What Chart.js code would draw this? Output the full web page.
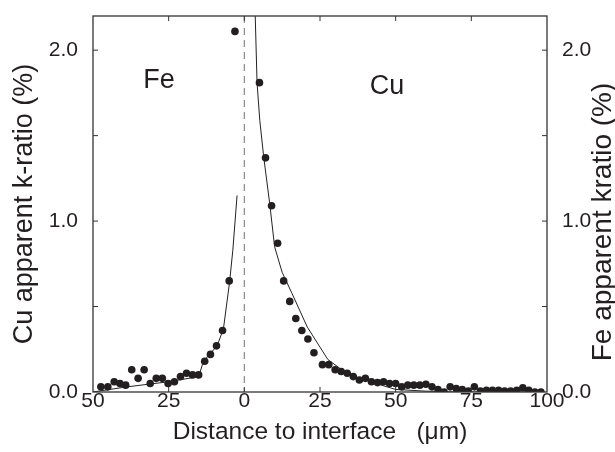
<!DOCTYPE html>
<html>
<head>
<meta charset="utf-8">
<script src="https://cdn.jsdelivr.net/npm/chart.js@4.4.1/dist/chart.umd.min.js"></script>
<style>
  body { margin: 0; background: #fff; }
  #wrap { width: 615px; height: 452px; position: relative; }
</style>
</head>
<body>
<div id="wrap"><canvas id="myChart"></canvas></div>
<script>
// measured points, Fe side (distance shown as negative x)
var feX = [-47.4, -45.1, -43.0, -41.1, -39.2, -37.2, -35.1, -33.1, -31.1, -29.1, -27.1, -25.2,
           -23.1, -21.1, -19.1, -17.1, -15.1, -13.1, -11.2, -9.2, -7.2, -5.0, -3.1];
var feY = [0.03, 0.03, 0.06, 0.05, 0.04, 0.13, 0.08, 0.13, 0.05, 0.08, 0.08, 0.05,
           0.06, 0.09, 0.11, 0.10, 0.10, 0.18, 0.22, 0.27, 0.36, 0.65, 2.11];
// measured points, Cu side
var cuX = [5, 7, 9, 11, 13, 15, 17, 19, 21, 23, 25.8, 27.9, 30, 32, 34, 36, 38, 40, 42, 44, 46, 48,
           50, 52, 54, 56, 58, 60, 62, 64, 66, 68, 70, 72, 74, 76, 78, 80, 82, 84, 86, 88, 90, 92, 94, 96, 98];
var cuY = [1.81, 1.37, 1.09, 0.87, 0.65, 0.53, 0.43, 0.36, 0.31, 0.23, 0.16, 0.16, 0.13, 0.12, 0.11, 0.09, 0.07, 0.08, 0.06, 0.055, 0.06, 0.05,
           0.05, 0.03, 0.04, 0.04, 0.04, 0.045, 0.03, 0.015, 0.0, 0.03, 0.02, 0.015, 0.005, 0.03, 0.005, 0.01, 0.01, 0.01, 0.005, 0.005, 0.01, 0.025, 0.01, 0.0, 0.0];
// calculated curves
var feLineX = [-50, -38.8, -25, -15.1, -13.5, -9, -6.9, -4.9, -3.8, -2.4];
var feLineY = [0.0, 0.03, 0.06, 0.09, 0.18, 0.27, 0.37, 0.64, 0.83, 1.15];
var cuLineX = [3.45, 4.2, 5.1, 6.4, 8.4, 10, 12.5, 15.8, 20.8, 27.6, 34.5, 43.4, 50, 60, 70, 80, 90, 98];
var cuLineY = [2.3, 1.81, 1.59, 1.375, 1.10, 0.85, 0.70, 0.575, 0.38, 0.19, 0.10, 0.05, 0.015, 0.005, 0, 0, 0, 0];

var xTicks = [-25, 0, 25, 50, 75];
var yTicks = [0.5, 1.0, 1.5, 2.0];
var regionNames = ['Fe', 'Cu'];
var regionX = [-33.4, 41.4];
var regionY = [1.78, 1.745];

var ink = '#231f20';
var sans = 'Liberation Sans, Arial, Helvetica, sans-serif';

function pts(xs, ys) {
    var out = [];
    for (var i = 0; i < xs.length; i++) out.push({x: xs[i], y: ys[i]});
    return out;
}

var decor = {
    id: 'decor',
    beforeDatasetsDraw: function(chart) {
        var ctx = chart.ctx, a = chart.chartArea, x0 = chart.scales.x.getPixelForValue(0);
        ctx.save();
        ctx.strokeStyle = '#8a8a8a';
        ctx.lineWidth = 1.2;
        ctx.setLineDash([7, 5]);
        ctx.beginPath();
        ctx.moveTo(x0, a.top);
        ctx.lineTo(x0, a.bottom);
        ctx.stroke();
        ctx.restore();
    },
    afterDatasetsDraw: function(chart) {
        var ctx = chart.ctx, a = chart.chartArea;
        var sx = chart.scales.x, sy = chart.scales.y;
        ctx.save();
        ctx.strokeStyle = '#333';
        ctx.lineWidth = 1.3;
        ctx.strokeRect(a.left, a.top, a.right - a.left, a.bottom - a.top);
        ctx.lineWidth = 1;
        ctx.beginPath();
        xTicks.forEach(function(v) {
            var p = sx.getPixelForValue(v);
            ctx.moveTo(p, a.bottom); ctx.lineTo(p, a.bottom - 5);
            ctx.moveTo(p, a.top); ctx.lineTo(p, a.top + 5);
        });
        yTicks.forEach(function(v) {
            var p = sy.getPixelForValue(v);
            ctx.moveTo(a.left, p); ctx.lineTo(a.left + 5, p);
            ctx.moveTo(a.right, p); ctx.lineTo(a.right - 5, p);
        });
        ctx.stroke();

        ctx.fillStyle = ink;
        ctx.font = '27px ' + sans;
        ctx.textAlign = 'left';
        ctx.textBaseline = 'alphabetic';
        for (var i = 0; i < regionNames.length; i++) {
            ctx.fillText(regionNames[i], sx.getPixelForValue(regionX[i]), sy.getPixelForValue(regionY[i]));
        }

        // right axis title reads bottom to top
        ctx.translate(a.right + 56, (a.top + a.bottom) / 2 + 18);
        ctx.rotate(-Math.PI / 2);
        ctx.font = '28px ' + sans;
        ctx.textAlign = 'center';
        ctx.textBaseline = 'middle';
        ctx.fillText('Fe apparent kratio (%)', 0, 0);
        ctx.restore();
    }
};

var tickFont = {family: sans, size: 21};

function fixWidth(w) {
    return function(s) {
        s.width = w;
        s.paddingTop = 0;
        s.paddingBottom = 0;
    };
}

new Chart(document.getElementById('myChart'), {
    type: 'scatter',
    data: {
        datasets: [
            {data: pts(feX, feY), backgroundColor: ink, pointRadius: 3.8, borderWidth: 0, showLine: false},
            {data: pts(cuX, cuY), backgroundColor: ink, pointRadius: 3.8, borderWidth: 0, showLine: false},
            {data: pts(feLineX, feLineY), showLine: true, borderColor: '#222', borderWidth: 1, pointRadius: 0, fill: false},
            {data: pts(cuLineX, cuLineY), showLine: true, borderColor: '#222', borderWidth: 1, pointRadius: 0, fill: false}
        ]
    },
    options: {
        responsive: true,
        maintainAspectRatio: false,
        animation: false,
        layout: {padding: {top: 16, left: 0, right: 0, bottom: 0}},
        plugins: {legend: {display: false}, tooltip: {enabled: false}},
        scales: {
            x: {
                type: 'linear', min: -50, max: 100,
                grid: {display: false, drawTicks: false},
                border: {display: false},
                ticks: {stepSize: 25, padding: -3, color: ink, font: tickFont, maxRotation: 0,
                        callback: function(v) { return Math.abs(v); }},
                title: {display: true, text: 'Distance to interface   (μm)', color: ink,
                        font: {family: sans, size: 24.5}, padding: {top: 0, bottom: 5}},
                afterFit: function(s) { s.height = 60; s.paddingLeft = 0; s.paddingRight = 0; }
            },
            y: {
                min: 0, max: 2.2,
                grid: {display: false, drawTicks: false},
                border: {display: false},
                ticks: {stepSize: 1, includeBounds: false, padding: 15, color: ink, font: tickFont,
                        callback: function(v) { return v.toFixed(1); }},
                title: {display: true, text: 'Cu apparent k-ratio (%)', color: ink,
                        font: {family: sans, size: 27}, padding: {top: 8, bottom: 0}},
                afterFit: fixWidth(93)
            },
            y2: {
                position: 'right', min: 0, max: 2.2,
                grid: {display: false, drawTicks: false},
                border: {display: false},
                ticks: {stepSize: 1, includeBounds: false, padding: 15, color: ink, font: tickFont,
                        callback: function(v) { return v.toFixed(1); }},
                afterFit: fixWidth(68)
            }
        }
    },
    plugins: [decor]
});
</script>
</body>
</html>
